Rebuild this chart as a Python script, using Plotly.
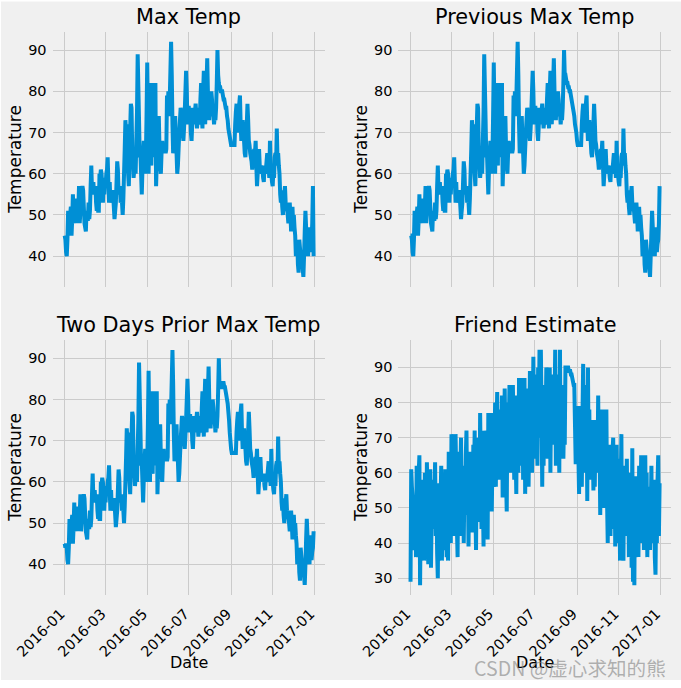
import pandas as pd
import plotly.graph_objects as go

tick_dates = ["2016-01-01", "2016-03-01", "2016-05-01", "2016-07-01", "2016-09-01", "2016-11-01", "2017-01-01"]
tick_labels = ["2016-01", "2016-03", "2016-05", "2016-07", "2016-09", "2016-11", "2017-01"]

max_temp = [
 45,44,41,40,44,51,45,48,50,52,45,49,55,49,48,54,50,54,48,52,52,57,48,51,54,56,57,56,52,48,47,
 46,51,49,49,53,49,51,57,62,56,55,58,55,56,57,53,51,53,51,51,60,59,61,60,57,53,58,55,59,
 57,60,61,64,58,53,58,53,54,55,56,55,52,49,51,53,58,63,61,55,56,57,53,54,53,50,54,60,66,73,70,
 72,65,60,57,64,71,77,76,66,63,59,61,64,60,68,75,89,81,73,64,65,60,55,61,65,68,66,60,64,74,
 87,74,60,70,82,63,62,75,82,64,71,66,82,57,63,66,70,74,66,62,60,65,68,66,66,65,66,65,66,79,75,
 80,74,78,85,92,84,72,65,66,69,74,68,65,60,62,66,70,73,76,75,72,70,68,71,75,80,85,80,72,76,
 76,72,76,70,68,72,76,74,72,75,77,74,71,73,72,76,72,78,82,74,71,80,85,76,72,78,82,88,80,76,73,
 78,76,80,78,74,75,72,74,73,76,82,90,84,82,81,81,80,80,80,79,78,78,77,76,76,74,73,71,70,69,68,
 67,67,67,67,67,67,72,75,77,72,70,74,77,79,72,68,71,73,70,68,65,64,68,72,77,73,68,67,65,64,
 63,61,63,65,66,65,68,62,57,60,63,66,62,61,62,60,61,59,58,62,60,61,63,65,60,62,59,68,61,60,58,
 57,61,59,64,65,62,71,64,65,62,60,55,53,56,52,50,53,55,57,53,51,52,50,48,50,53,50,46,50,52,
 48,50,47,45,40,42,44,38,36,44,42,40,38,40,37,35,40,46,51,47,44,42,40,47,44,41,43,44,48,57,40]

previous_max_temp = [
 45,45,44,41,40,44,51,45,48,50,52,45,49,55,49,48,54,50,54,48,52,52,57,48,51,54,56,57,56,52,48,
 47,46,51,49,49,53,49,51,57,62,56,55,58,55,56,57,53,51,53,51,51,60,59,61,60,57,53,58,55,
 59,57,60,61,64,58,53,58,53,54,55,56,55,52,49,51,53,58,63,61,55,56,57,53,54,53,50,54,60,66,73,
 70,72,65,60,57,64,71,77,76,66,63,59,61,64,60,68,75,89,81,73,64,65,60,55,61,65,68,66,60,64,
 74,87,74,60,70,82,63,62,75,82,64,71,66,82,57,63,66,70,74,66,62,60,65,68,66,66,65,66,65,66,79,
 75,80,74,78,85,92,84,72,65,66,69,74,68,65,60,62,66,70,73,76,75,72,70,68,71,75,80,85,80,72,
 76,76,72,76,70,68,72,76,74,72,75,77,74,71,73,72,76,72,78,82,74,71,80,85,76,72,78,82,88,80,76,
 73,78,76,80,78,74,75,72,74,73,76,82,90,84,84,83,82,82,81,81,80,80,79,78,77,76,75,74,72,71,70,
 68,67,67,67,67,67,67,72,75,77,72,70,74,77,79,72,68,71,73,70,68,65,64,68,72,77,73,68,67,65,
 64,63,61,63,65,66,65,68,62,57,60,63,66,62,61,62,60,61,59,58,62,60,61,63,65,60,62,59,68,61,60,
 58,57,61,59,64,65,62,71,64,65,62,60,55,53,56,52,50,53,55,57,53,51,52,50,48,50,53,50,46,50,
 52,48,50,47,45,40,42,44,38,36,44,42,40,38,40,37,35,40,46,51,47,44,42,40,47,44,41,43,44,48,57]

two_days_prior_max_temp = [
 45,44,45,44,41,40,44,51,45,48,50,52,45,49,55,49,48,54,50,54,48,52,52,57,48,51,54,56,57,56,52,
 48,47,46,51,49,49,53,49,51,57,62,56,55,58,55,56,57,53,51,53,51,51,60,59,61,60,57,53,58,
 55,59,57,60,61,64,58,53,58,53,54,55,56,55,52,49,51,53,58,63,61,55,56,57,53,54,53,50,54,60,66,
 73,70,72,65,60,57,64,71,77,76,66,63,59,61,64,60,68,75,89,81,73,64,65,60,55,61,65,68,66,60,
 64,74,87,74,60,70,82,63,62,75,82,64,71,66,82,57,63,66,70,74,66,62,60,65,68,66,66,65,66,65,66,
 79,75,80,74,78,85,92,84,72,65,66,69,74,68,65,60,62,66,70,73,76,75,72,70,68,71,75,80,85,80,
 72,76,76,72,76,70,68,72,76,74,72,75,77,74,71,73,72,76,72,78,82,74,71,80,85,76,72,78,82,88,80,
 76,73,78,76,80,78,74,75,72,74,73,76,82,90,83,83,83,83,84,84,84,83,83,82,81,80,79,77,75,72,70,
 68,67,67,67,67,67,67,67,72,75,77,72,70,74,77,79,72,68,71,73,70,68,65,64,68,72,77,73,68,67,
 65,64,63,61,63,65,66,65,68,62,57,60,63,66,62,61,62,60,61,59,58,62,60,61,63,65,60,62,59,68,61,
 60,58,57,61,59,64,65,62,71,64,65,62,60,55,53,56,52,50,53,55,57,53,51,52,50,48,50,53,50,46,
 50,52,48,50,47,45,40,42,44,38,36,44,42,40,38,40,37,35,40,46,51,47,44,42,40,47,44,41,43,44,48]

friend_estimate = [
 29,61,56,53,41,40,38,52,36,62, 48,36,60,65,28,49,58,37,42,55,
 35,60,44,38,63,50,34,47,52,61, 33,49,56,44,58,50,63,42,53,37,
 30,57,41,36,52,62,35,50,58,44, 38,61,48,36,55,35,66,43,58,40,
 71,46,66,71,52,42,71,58,44,36, 66,50,42,60,70,44,55,62,40,58,
 48,65,72,52,60,39,58,66,45,54, 62,43,68,55,72,50,38,65,46,58,
 70,48,77,60,44,66,53,39,72,58, 46,68,55,41,77,60,72,50,77,49,
 62,75,56,68,80,56,72,83,60,66, 78,58,70,64,82,53,74,62,84,68,
 58,49,80,66,72,85,60,74,85,62, 85,70,58,78,66,54,82,70,60,87,
 68,87,62,78,87,58,74,87,54,70, 80,62,84,56,72,89,64,80,60,72,
 93,70,84,64,88,72,62,90,74,95, 70,95,78,56,80,62,85,68,74,90,
 78,64,85,70,90,60,82,72,76,88, 68,78,95,62,85,70,88,76,60,95,
 66,85,72,80,64,76,68,90,90,90, 90,90,89,89,89,88,88,87,86,85,
 85,74,63,63,72,79,65,54,79,58, 66,56,76,91,62,85,70,60,80,52,
 90,65,78,58,72,75,60,68,55,75, 56,72,60,70,62,82,60,70,48,64,
 78,60,70,50,78,65,55,78,52,40, 62,45,68,42,60,48,66,70,44,62,
 39,58,68,46,64,40,60,35,56,71, 35,58,35,62,45,60,50,64,42,58,
 36,60,48,55,33,67,29,50,28,59, 42,56,38,52,36,62,44,48,65,40,
 60,65,38,52,65,42,60,36,50,40, 56,38,48,62,40,55,44,58,36,31,
 52,40,58,65,42,57]

panel_titles = ["Max Temp", "Previous Max Temp", "Two Days Prior Max Temp", "Friend Estimate"]
series = [max_temp, previous_max_temp, two_days_prior_max_temp, friend_estimate]
W, H = 681, 688
x_doms = [(52.5, 325.2), (398.3, 671.2), (52.5, 325.2), (398.3, 671.2)]
y_doms = [(32, 286.7), (32, 286.7), (340, 594.7), (340, 594.7)]
y_ranges = [(32.6, 94.4), (32.6, 94.4), (32.6, 94.45), (25.3, 97.8)]
y_ticks = [[40, 50, 60, 70, 80, 90]] * 3 + [[30, 40, 50, 60, 70, 80, 90]]
BG, GRID, BLUE, TXT = "#f0f0f0", "#cbcbcb", "#008fd5", "#000000"
FONT = "DejaVu Sans"

fig = go.Figure()
ann = []


def text(label, px, py, size, angle=0, color=TXT, family=FONT, xanchor="center"):
    ann.append(dict(text=label, xref="paper", yref="paper", showarrow=False,
                    x=px / W, y=1 - py / H, xanchor=xanchor, yanchor="middle", textangle=angle,
                    font=dict(family=family, size=size, color=color)))


for i, (vals, name) in enumerate(zip(series, panel_titles)):
    n = "" if i == 0 else str(i + 1)
    dates = pd.date_range("2016-01-01", "2016-12-31", periods=len(vals))
    fig.add_trace(go.Scatter(x=dates, y=vals, mode="lines", xaxis=f"x{n}", yaxis=f"y{n}",
                             line=dict(color=BLUE, width=4, simplify=False), showlegend=False))
    bottom = i >= 2
    fig.layout[f"xaxis{n}"] = dict(
        domain=[x_doms[i][0] / W, x_doms[i][1] / W], anchor=f"y{n}", type="date", automargin=False,
        range=["2015-12-14 02:00", "2017-01-17 00:00"],
        tickmode="array", tickvals=tick_dates, ticktext=tick_labels if bottom else [""] * 7,
        tickangle=-45, ticks="outside", ticklen=4, tickwidth=1, tickcolor=BG,
        ticklabelshift=-4,
        gridcolor=GRID, gridwidth=1.3, showline=False, zeroline=False,
        tickfont=dict(family=FONT, size=14.5, color=TXT),
    )
    fig.layout[f"yaxis{n}"] = dict(
        domain=[1 - y_doms[i][1] / H, 1 - y_doms[i][0] / H], anchor=f"x{n}", automargin=False,
        range=list(y_ranges[i]), tickmode="array", tickvals=y_ticks[i],
        ticks="outside", ticklen=2, tickwidth=1, tickcolor=BG,
        gridcolor=GRID, gridwidth=1.3, showline=False, zeroline=False,
        tickfont=dict(family=FONT, size=14.5, color=TXT),
    )
    cx = sum(x_doms[i]) / 2
    text(name, cx, y_doms[i][0] - 15, 20.8)
    text("Temperature", x_doms[i][0] - 37, sum(y_doms[i]) / 2, 17, angle=-90)
    if bottom:
        text("Date", cx, 662.5, 16)

text("CSDN @虚心求知的熊", 668, 667, 19.6, color="rgba(130,130,130,0.6)",
     family="Noto Sans CJK SC", xanchor="right")

white = dict(type="rect", xref="paper", yref="paper", fillcolor="#ffffff", line=dict(width=0), layer="below")
fig.update_layout(
    width=W, height=H, autosize=False, margin=dict(l=0, r=0, t=0, b=0),
    paper_bgcolor=BG, plot_bgcolor=BG, annotations=ann,
    shapes=[
        dict(white, x0=0, x1=1, y0=0, y1=1 - 680 / H),
        dict(white, x0=0, x1=1, y0=1 - 1.5 / H, y1=1),
        dict(white, x0=0, x1=1 / W, y0=0, y1=1),
    ],
)
fig.write_html("out.html", config=dict(displayModeBar=False),
               post_script="document.body.style.margin='0';")
